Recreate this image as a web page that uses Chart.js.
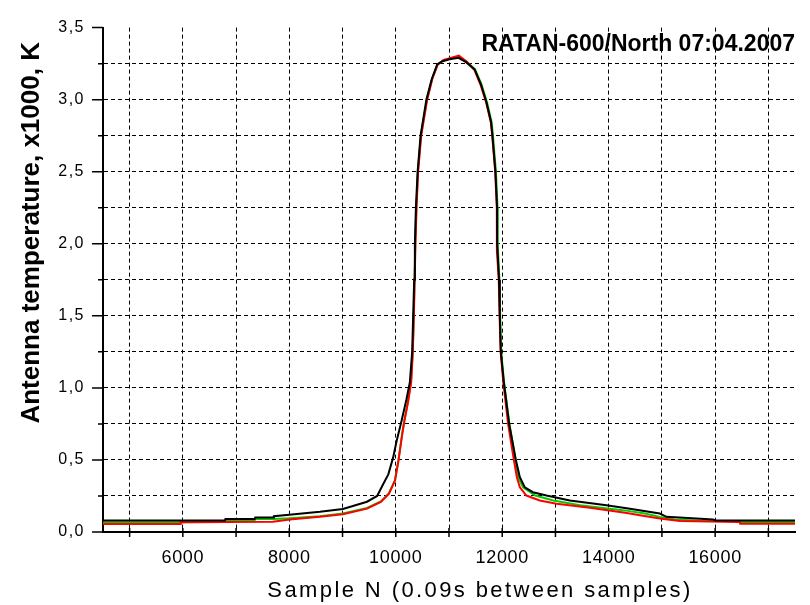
<!DOCTYPE html>
<html><head><meta charset="utf-8">
<script src="https://cdn.jsdelivr.net/npm/chart.js@4.4.1/dist/chart.umd.min.js"></script>
<style>html,body{margin:0;padding:0;background:#fff}canvas{display:block}</style>
</head><body>
<canvas id="c" width="810" height="605"></canvas>
<script>
// ---- data (sample number, antenna temperature x1000 K) ----
const blackN = [4500, 6790, 6800, 7350, 7360, 7700, 7710, 8000, 8575, 9007, 9460, 9650, 9760, 9860, 9950, 10015, 10108, 10200, 10265, 10308, 10327, 10346, 10359, 10378, 10410, 10466, 10575, 10673, 10778, 10880, 11010, 11180, 11320, 11480, 11600, 11705, 11790, 11816, 11872, 11903, 11905, 11940, 11955, 11974, 12030, 12130, 12256, 12331, 12425, 12575, 12832, 13270, 13958, 14400, 14960, 15085, 15961, 16000, 17500];
const blackV = [0.080, 0.080, 0.090, 0.090, 0.100, 0.100, 0.110, 0.120, 0.140, 0.160, 0.210, 0.250, 0.330, 0.400, 0.516, 0.630, 0.770, 0.920, 1.040, 1.250, 1.500, 1.750, 2.000, 2.250, 2.500, 2.750, 3.000, 3.140, 3.245, 3.267, 3.280, 3.290, 3.260, 3.210, 3.107, 2.980, 2.845, 2.750, 2.500, 2.250, 2.000, 1.750, 1.500, 1.250, 1.040, 0.750, 0.500, 0.380, 0.310, 0.276, 0.253, 0.219, 0.185, 0.162, 0.128, 0.105, 0.087, 0.080, 0.080];

const greenN = [4500, 5950, 6800, 6810, 7350, 7360, 7700, 8010, 8575, 9007, 9460, 9720, 9870, 9985, 10050, 10120, 10160, 10225, 10285, 10318, 10338, 10352, 10366, 10386, 10416, 10472, 10585, 10685, 10785, 10890, 11020, 11180, 11330, 11490, 11610, 11715, 11800, 11826, 11882, 11912, 11914, 11948, 11962, 11980, 12034, 12135, 12250, 12300, 12390, 12620, 12960, 13460, 14300, 14680, 14960, 15240, 15710, 16460, 16470, 17500];
const greenV = [0.068, 0.068, 0.070, 0.080, 0.082, 0.090, 0.090, 0.095, 0.110, 0.128, 0.167, 0.212, 0.268, 0.360, 0.497, 0.680, 0.770, 0.900, 1.040, 1.250, 1.500, 1.750, 2.000, 2.250, 2.500, 2.750, 3.000, 3.145, 3.245, 3.270, 3.285, 3.295, 3.265, 3.210, 3.107, 2.980, 2.845, 2.750, 2.500, 2.250, 2.000, 1.750, 1.500, 1.250, 1.040, 0.750, 0.500, 0.380, 0.310, 0.253, 0.219, 0.185, 0.150, 0.128, 0.105, 0.087, 0.078, 0.075, 0.070, 0.070];

const redN = [4500, 5950, 5960, 7690, 8010, 8575, 9007, 9460, 9720, 9870, 9985, 10050, 10120, 10160, 10230, 10290, 10320, 10340, 10355, 10370, 10390, 10420, 10478, 10590, 10690, 10790, 10900, 11030, 11185, 11330, 11480, 11595, 11698, 11785, 11812, 11868, 11898, 11900, 11935, 11950, 11970, 12020, 12110, 12218, 12275, 12331, 12455, 12706, 13020, 13646, 14209, 14397, 14585, 14960, 15336, 16460, 16470, 17500];
const redV = [0.055, 0.055, 0.068, 0.071, 0.087, 0.105, 0.123, 0.162, 0.208, 0.265, 0.356, 0.493, 0.676, 0.767, 0.900, 1.040, 1.250, 1.500, 1.750, 2.000, 2.250, 2.500, 2.750, 3.000, 3.150, 3.245, 3.275, 3.290, 3.305, 3.265, 3.205, 3.100, 2.980, 2.845, 2.750, 2.500, 2.250, 1.950, 1.750, 1.500, 1.250, 1.040, 0.750, 0.500, 0.380, 0.310, 0.253, 0.219, 0.196, 0.169, 0.139, 0.128, 0.116, 0.094, 0.077, 0.070, 0.058, 0.058];

const xTickValues = [5000, 6000, 7000, 8000, 9000, 10000, 11000, 12000, 13000, 14000, 15000, 16000, 17000];
const xTickLabels = ['', '6000', '', '8000', '', '10000', '', '12000', '', '14000', '', '16000', ''];
const yTickValues = [0, 0.25, 0.5, 0.75, 1, 1.25, 1.5, 1.75, 2, 2.25, 2.5, 2.75, 3, 3.25, 3.5];
const yTickLabels = ['0,0', '', '0,5', '', '1,0', '', '1,5', '', '2,0', '', '2,5', '', '3,0', '', '3,5'];

const chartTitle = 'RATAN-600/North 07:04.2007';
const xTitle = 'Sample N (0.09s between samples)';
const yTitle = 'Antenna temperature, x1000, K';

const FONT = "'Liberation Sans', Arial, sans-serif";
const pts = (n, v) => n.map((x, i) => ({x: x, y: v[i]}));

// letter spacing / offsets for axis texts
const textStyle = {
  id: 'textStyle',
  afterLayout(chart) {
    const specs = [
      [chart.scales.x, 'drawTitle', '2.4px', 31, 0],
      [chart.scales.x, 'drawLabels', '0.7px', 0, 0],
      [chart.scales.y, 'drawLabels', '1.5px', 0, 0],
      [chart.scales.y, 'drawTitle', '0px', 0, -47]
    ];
    for (const [s, fn, ls, dx, dy] of specs) {
      if (s['__' + fn]) continue;
      const orig = s[fn];
      s[fn] = function (...a) {
        const ctx = this.ctx;
        ctx.save();
        ctx.letterSpacing = ls;
        ctx.translate(dx, dy);
        orig.apply(this, a);
        ctx.restore();
      };
      s['__' + fn] = true;
    }
  }
};

// tick marks: long for labelled ticks, short for others
const tickMarks = {
  id: 'tickMarks',
  afterDraw(chart) {
    const {ctx, chartArea: a, scales: {x, y}} = chart;
    ctx.save();
    ctx.strokeStyle = '#000';
    ctx.lineWidth = 1.5;
    ctx.beginPath();
    y.ticks.forEach((t, i) => {
      const p = y.getPixelForValue(t.value);
      const len = yTickLabels[i] ? 11 : 5;
      ctx.moveTo(a.left - len, p);
      ctx.lineTo(a.left, p);
    });
    x.ticks.forEach((t) => {
      const p = x.getPixelForValue(t.value);
      ctx.moveTo(p, a.bottom - 4);
      ctx.lineTo(p, a.bottom + 5);
    });
    ctx.stroke();
    ctx.restore();
  }
};

const line = (data, color) => ({
  data: data, borderColor: color, backgroundColor: color, borderWidth: 2,
  pointRadius: 0, tension: 0, fill: false
});

new Chart(document.getElementById('c'), {
  type: 'line',
  data: {
    datasets: [
      line(pts(blackN, blackV), '#000000'),
      line(pts(redN, redV), '#ff0000'),
      line(pts(greenN, greenV), '#00cc00')
    ]
  },
  options: {
    responsive: false,
    devicePixelRatio: 1,
    animation: false,
    events: [],
    layout: {padding: {top: 0, right: 15, bottom: 0, left: 0}},
    plugins: {
      legend: {display: false},
      tooltip: {enabled: false},
      title: {
        display: true, text: chartTitle, align: 'end', color: '#000',
        font: {family: FONT, size: 23, weight: 'bold'},
        padding: {top: 25.7, bottom: -31.3}
      }
    },
    scales: {
      x: {
        type: 'linear', min: 4500, max: 17500,
        afterBuildTicks: (axis) => { axis.ticks = xTickValues.map(v => ({value: v})); },
        afterFit: (s) => { s.height = 73; },
        ticks: {
          autoSkip: false, maxRotation: 0, padding: 15, color: '#000',
          font: {family: FONT, size: 18},
          callback: (v, i) => xTickLabels[i]
        },
        grid: {
          drawTicks: false, color: '#000', lineWidth: 1,
          borderDash: [4, 3]
        },
        border: {display: true, color: '#000', width: 2, dash: [4, 3]},
        title: {
          display: true, text: xTitle, color: '#000',
          font: {family: FONT, size: 22},
          padding: {top: 0, bottom: 1.3}
        }
      },
      y: {
        type: 'linear', min: 0, max: 3.5,
        afterBuildTicks: (axis) => { axis.ticks = yTickValues.map(v => ({value: v})); },
        afterFit: (s) => { s.width = 103; },
        ticks: {
          autoSkip: false, padding: 18, color: '#000',
          font: {family: FONT, size: 16},
          callback: (v, i) => yTickLabels[i]
        },
        grid: {
          drawTicks: false, lineWidth: 1,
          color: (c) => (c.tick && (c.tick.value === 0 || c.tick.value === 3.5)) ? 'rgba(0,0,0,0)' : '#000'
        },
        border: {display: true, color: '#000', width: 2, dash: [4, 3]},
        title: {
          display: true, text: yTitle, color: '#000',
          font: {family: FONT, size: 26, weight: 'bold'},
          padding: {top: 16, bottom: 0}
        }
      }
    }
  },
  plugins: [textStyle, tickMarks]
});
</script>
</body></html>
